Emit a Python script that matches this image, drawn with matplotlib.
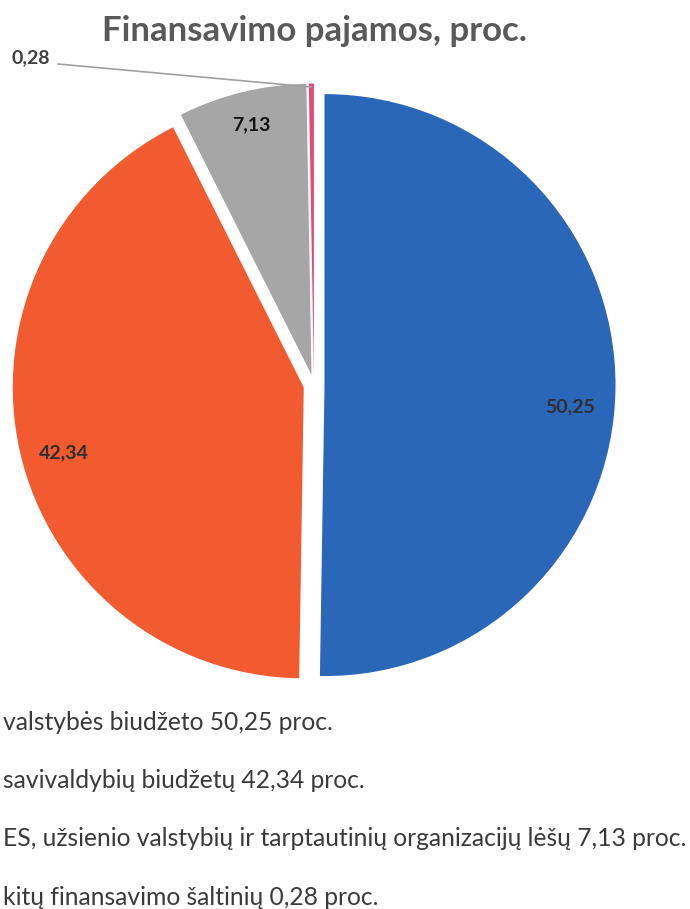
import matplotlib
matplotlib.use("Agg")
import matplotlib.pyplot as plt

# Finansavimo pajamos, proc.
values = [50.25, 42.34, 7.13, 0.28]
labels = ["50,25", "42,34", "7,13", "0,28"]
colors = ["#2b67b8", "#f25a2f", "#a6a6a6", "#e84a78"]
legend_lines = [
    "valstybės biudžeto 50,25 proc.",
    "savivaldybių biudžetų 42,34 proc.",
    "ES, užsienio valstybių ir tarptautinių organizacijų lėšų 7,13 proc.",
    "kitų finansavimo šaltinių 0,28 proc.",
]

W, H = 690, 909
fig = plt.figure(figsize=(W / 100, H / 100), dpi=100, facecolor="white")
ax = fig.add_axes([0, 0, 1, 1])

# pie laid out in pixel-like coordinates (y measured from the bottom)
cx, cy, R = 314, H - 385, 291
ax.pie(values, colors=colors, startangle=90, counterclock=False,
       explode=[10.5] * 4, center=(cx, cy), radius=R, frame=True,
       wedgeprops=dict(linewidth=0))
ax.set_xlim(0, W)
ax.set_ylim(0, H)
ax.set_aspect("equal")
ax.axis("off")

# data labels (positions in pixels from the top-left)
lab_pos = [(570, 407), (64, 453), (251, 125)]
lab_col = ["#2f2f2f", "#2f2f2f", "#111111"]
for (x, y), txt, c in zip(lab_pos, labels[:3], lab_col):
    ax.text(x, H - y, txt, ha="center", va="center", fontsize=14,
            fontweight="bold", color=c, family="Lato")

# small slice label with leader line
ax.text(31, H - 58, labels[3], ha="center", va="center", fontsize=14,
        fontweight="bold", color="#404040", family="Lato")
ax.plot([58, 311], [H - 64, H - 87], color="#a0a0a0", lw=1.2)

ax.text(314, H - 31, "Finansavimo pajamos, proc.", ha="center", va="center",
        fontsize=25, fontweight="bold", color="#595959", family="Lato")

for i, line in enumerate(legend_lines):
    ax.text(3, H - (722 + i * 58.5), line, ha="left", va="center",
            fontsize=17.7, color="#3a3a3a", family="Lato")

fig.savefig("out.png", dpi=100, facecolor="white")
